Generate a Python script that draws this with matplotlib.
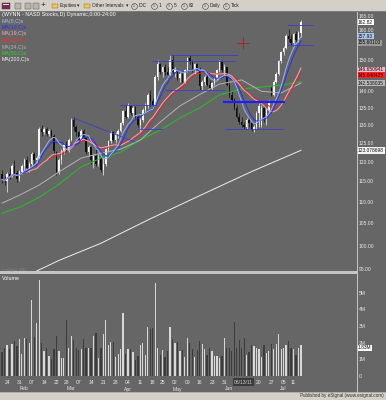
import numpy as np
import pandas as pd
import matplotlib
matplotlib.use("Agg")
import matplotlib.pyplot as plt
from matplotlib.patches import Rectangle
from matplotlib.ticker import FixedLocator, NullLocator
from matplotlib.transforms import blended_transform_factory

plt.rcParams['font.family'] = ['Liberation Sans', 'DejaVu Sans']

# ---- data (WYNN daily) ----
holidays = pd.to_datetime(['2011-02-21', '2011-04-22', '2011-05-30', '2011-07-04'])
dates = pd.bdate_range('2011-01-20', '2011-07-14')
dates = dates[~dates.isin(holidays)]

opens = [117.0, 115.5, 115.0, 117.0, 116.5, 119.0, 117.2, 115.5, 117.5, 119.0,
         120.5, 118.5, 119.5, 122.0, 120.5, 121.0, 129.0, 128.0, 129.0, 127.5,
         128.5, 127.0, 122.5, 117.5, 120.5, 123.0, 124.5, 123.0, 126.0, 131.5,
         129.5, 128.0, 126.0, 128.5, 126.5, 122.5, 124.0, 120.5, 121.5, 119.5,
         121.0, 118.0, 119.5, 123.5, 125.5, 128.0, 126.0, 127.5, 128.5, 130.5,
         134.0, 132.5, 135.5, 133.5, 135.0, 132.5, 130.0, 131.5, 134.5, 136.0,
         139.0, 137.0, 136.0, 144.5, 148.5, 146.0, 147.5, 146.0, 145.0, 150.0,
         146.0, 146.5, 144.0, 145.5, 143.0, 146.5, 150.5, 149.5, 147.0, 148.5,
         147.0, 141.5, 143.0, 144.5, 142.0, 141.0, 142.5, 144.0, 146.5, 149.5,
         146.5, 147.5, 142.0, 139.0, 137.5, 135.0, 132.5, 131.0, 130.0, 129.5,
         131.5, 130.5, 129.0, 129.5, 133.5, 130.0, 135.0, 132.0, 134.5, 141.0,
         139.0, 143.0, 145.5, 149.5, 152.5, 154.0, 158.0, 157.0, 155.5, 158.5,
         156.5, 159.0]
highs = [118.0, 116.5, 117.5, 118.5, 119.5, 120.5, 118.0, 118.0, 119.5, 121.0,
         121.5, 120.0, 122.5, 122.5, 121.5, 129.5, 130.0, 129.5, 129.5, 129.0,
         128.8, 127.5, 123.0, 121.0, 123.5, 125.0, 125.5, 126.5, 132.0, 132.3,
         130.0, 128.5, 129.0, 129.0, 126.8, 124.5, 124.0, 122.0, 123.5, 122.0,
         121.5, 121.0, 124.0, 126.0, 128.5, 128.5, 128.0, 128.8, 131.0, 134.5,
         136.0, 136.5, 136.0, 135.5, 135.5, 133.0, 132.0, 135.0, 136.5, 139.5,
         140.5, 138.0, 145.0, 150.0, 149.0, 148.0, 148.5, 147.5, 151.6, 151.6,
         147.5, 147.0, 146.0, 146.0, 147.0, 151.0, 151.6, 150.0, 149.0, 149.0,
         147.5, 143.5, 145.0, 145.5, 143.5, 143.0, 144.5, 147.0, 150.0, 150.0,
         148.5, 147.5, 143.0, 140.0, 138.0, 136.0, 133.5, 132.5, 131.0, 132.0,
         132.5, 131.0, 130.0, 134.0, 136.5, 136.0, 135.5, 135.0, 137.5, 141.5,
         143.5, 146.0, 150.0, 153.0, 154.5, 158.5, 160.5, 158.5, 159.0, 159.5,
         159.5, 163.5]
lows = [114.5, 114.0, 112.3, 115.5, 116.0, 116.5, 114.8, 115.0, 117.0, 118.0,
        117.5, 117.5, 119.0, 119.5, 119.5, 120.5, 127.0, 127.5, 127.0, 127.0,
        126.5, 122.0, 116.7, 117.0, 119.5, 122.0, 122.5, 122.5, 125.5, 128.5,
        127.0, 125.0, 125.5, 126.0, 122.0, 121.5, 119.5, 118.5, 119.0, 119.0,
        117.5, 116.7, 119.0, 122.5, 125.0, 125.5, 125.0, 126.5, 128.0, 130.0,
        132.0, 132.0, 133.0, 132.5, 132.0, 129.5, 128.5, 131.0, 133.5, 135.0,
        135.5, 134.6, 135.5, 143.6, 145.5, 144.5, 145.0, 144.0, 145.0, 145.5,
        144.5, 143.5, 143.0, 142.5, 142.5, 146.0, 148.5, 146.0, 145.5, 146.5,
        140.5, 140.3, 142.0, 141.5, 140.5, 140.5, 142.0, 143.5, 146.0, 146.0,
        145.0, 141.5, 138.0, 136.8, 134.5, 132.0, 130.3, 129.5, 128.9, 129.0,
        129.5, 128.5, 128.0, 129.0, 129.5, 129.5, 131.0, 130.0, 133.5, 138.5,
        138.5, 142.5, 145.0, 149.0, 151.5, 153.5, 156.0, 155.0, 155.0, 156.0,
        156.0, 157.5]
closes = [115.5, 115.0, 117.0, 116.5, 119.0, 117.2, 115.5, 117.5, 119.0, 120.5,
          118.5, 119.5, 122.0, 120.5, 121.0, 129.0, 128.0, 129.0, 127.5, 128.5,
          127.0, 123.0, 117.5, 120.5, 123.0, 124.5, 123.0, 126.0, 131.5, 129.5,
          128.0, 126.0, 128.5, 126.5, 122.5, 124.0, 120.5, 121.5, 119.5, 121.0,
          118.0, 119.5, 123.5, 125.5, 128.0, 126.0, 127.5, 128.5, 130.5, 134.0,
          132.5, 135.5, 133.5, 135.0, 132.5, 130.0, 131.5, 134.5, 136.0, 139.0,
          137.0, 136.0, 144.5, 148.5, 146.0, 147.5, 146.0, 145.0, 150.0, 146.0,
          146.5, 144.0, 145.5, 143.0, 146.5, 150.5, 149.5, 147.0, 148.5, 147.0,
          141.5, 143.0, 144.5, 142.0, 141.0, 142.5, 144.0, 146.5, 149.5, 146.5,
          147.5, 142.0, 139.0, 137.5, 135.0, 132.5, 131.0, 130.0, 129.5, 131.5,
          130.5, 129.0, 129.5, 133.5, 135.5, 135.0, 132.0, 134.5, 137.0, 139.0,
          143.0, 145.5, 149.5, 152.5, 154.0, 158.0, 157.0, 155.5, 158.5, 156.5,
          159.0, 162.82]
volume_m = [1.45, 1.7, 1.85, 1.6, 1.9, 2.1, 1.8, 2.2, 1.3, 2.3,
            2.2, 2.0, 4.55, 2.35, 3.2, 5.75, 2.0, 1.5, 1.7, 1.2,
            1.0, 1.6, 2.4, 1.5, 1.1, 1.1, 3.35, 1.7, 2.4, 2.15,
            1.65, 1.55, 1.6, 2.2, 1.65, 1.7, 1.7, 2.4, 2.6, 1.1,
            1.7, 2.5, 3.35, 1.85, 2.05, 2.05, 1.15, 1.3, 1.6, 3.8,
            1.3, 1.6, 1.6, 1.45, 0.95, 1.2, 1.85, 1.95, 1.25, 2.95,
            2.8, 2.85, 5.6, 1.7, 1.25, 1.55, 1.15, 1.5, 2.95, 2.2,
            1.95, 2.05, 1.5, 1.55, 1.15, 2.25, 1.95, 1.6, 1.15, 1.55,
            2.1, 1.9, 1.6, 1.25, 1.7, 1.5, 1.2, 1.2, 1.1, 1.2,
            2.3, 1.65, 1.65, 1.5, 3.25, 1.7, 2.15, 1.7, 2.25, 1.25,
            1.45, 1.85, 1.8, 1.65, 1.6, 1.15, 1.85, 1.35, 1.5, 1.9,
            1.6, 1.9, 2.5, 1.6, 1.7, 1.85, 2.1, 1.7, 1.6, 1.25,
            1.7, 1.83]

# slower averages need history before the window
ma34_idx = [0, 7, 15, 23, 32, 40, 48, 56, 64, 72, 80, 88, 97, 105, 113, 121]
ma34_val = [109.7, 111.6, 114.1, 117.4, 121.0, 122.3, 123.4, 125.9, 130.9, 135.6,
            139.0, 142.2, 143.5, 140.0, 139.5, 142.54]
ma50_idx = [0, 7, 15, 23, 32, 40, 48, 56, 64, 72, 80, 88, 97, 105, 113, 121]
ma50_val = [107.3, 108.7, 111.1, 114.3, 118.7, 121.0, 122.6, 125.9, 128.6, 132.1,
            135.0, 138.9, 140.7, 141.3, 141.9, 142.9]
ma200_idx = [14, 23, 40, 60, 80, 101, 121]
ma200_val = [94.6, 96.8, 100.5, 106.0, 111.5, 117.5, 123.08]

# drawn trendlines: (start bar, start price, end bar, end price, thick)
trendlines = [(28.8, 132.1, 53.9, 125.3, False),
              (47.8, 135.9, 62.8, 135.9, False),
              (55.1, 128.9, 65.2, 128.9, False),
              (68.1, 151.6, 95.7, 151.6, False),
              (60.8, 149.6, 94.4, 149.6, False),
              (66.1, 140.5, 90.4, 140.5, False),
              (89.6, 136.8, 114.7, 136.8, True),
              (90.4, 128.9, 113.9, 128.9, False),
              (115.5, 161.8, 125.7, 161.8, False),
              (115.5, 155.0, 125.7, 155.0, False)]

cursor_idx, cursor_price, cursor_date = 97.7, 155.60103, '06/13/11'

price_ticks = [95, 100, 105, 110, 115, 120, 125, 130, 135, 140, 150, 160, 165]
vol_ticks = [0, 1, 2, 3, 4, 5]

# ---- layout in pixels ----
W, H = 386, 400
BG = '#666666'
TXT = '#e8e8e8'


def fx(px):
    return px / W


def fy(py):
    return 1 - py / H


fig = plt.figure(figsize=(W / 100, H / 100), dpi=100, facecolor=BG)
ax = fig.add_axes([0, fy(271), fx(356.5), fy(11.5) - fy(271)])
axv = fig.add_axes([0, fy(376), fx(356.5), fy(274) - fy(376)], sharex=ax)
for a in (ax, axv):
    a.set_facecolor(BG)
    for s in a.spines.values():
        s.set_visible(False)

n = len(closes)
x = np.arange(n)
o = np.array(opens)
c = np.array(closes)
h = np.array(highs)
lo = np.array(lows)
up = c >= o
bar_col = np.where(up, '#f4f4f4', '#101010')

# candles
ax.vlines(x, lo, h, colors=bar_col, lw=0.5, zorder=2)
ax.bar(x, np.maximum(np.abs(c - o), 0.2), bottom=np.minimum(o, c), width=0.6,
       color=bar_col, linewidth=0, zorder=2)

# moving averages
s = pd.Series(closes)
ax.plot(ma200_idx, ma200_val, color='#f0f0f0', lw=0.7, zorder=3)
ax.plot(ma50_idx, ma50_val, color='#22c422', lw=0.7, zorder=3)
ax.plot(ma34_idx, ma34_val, color='#b4b4b4', lw=0.7, zorder=3)
ax.plot(x, s.rolling(21, min_periods=1).mean(), color='#ee2222', lw=0.7, zorder=3)
ax.plot(x, s.rolling(19, min_periods=1).mean(), color='#f0a8b8', lw=0.7, zorder=3)
ax.plot(x, s.rolling(10, min_periods=1).mean(), color='#2a2aff', lw=0.7, zorder=3)
ax.plot(x, s.rolling(8, min_periods=1).mean(), color='#90b8e4', lw=0.7, zorder=3)

for i0, p0, i1, p1, thick in trendlines:
    ax.plot([i0, i1], [p0, p1], color='#1e1eff' if thick else '#3a3ad8',
            lw=1.6 if thick else 0.6, zorder=4, solid_capstyle='butt')

ax.plot(cursor_idx, cursor_price, marker='+', ms=9, mew=0.7, color='#a02828', zorder=5)

ax.set_yscale('log')
ax.set_ylim(94.6, 166.6)
ax.set_xlim(-0.85, 143.5)
ax.yaxis.set_major_locator(FixedLocator(price_ticks))
ax.yaxis.set_minor_locator(NullLocator())
ax.set_yticklabels(['%.2f' % v for v in price_ticks])
ax.yaxis.tick_right()
ax.tick_params(axis='y', length=0, pad=1.8, labelsize=3.6, labelcolor=TXT)
ax.tick_params(axis='x', bottom=False, labelbottom=False)

# volume
vol_col = np.where(up, '#d8d8d8', '#3c3c3c')
axv.bar(x, np.array(volume_m) * 1e6, width=0.5, color=vol_col, linewidth=0)
axv.set_ylim(0, 6.11e6)
axv.set_yticks([v * 1e6 for v in vol_ticks])
axv.set_yticklabels(['0' if v == 0 else '%dM' % v for v in vol_ticks])
axv.yaxis.tick_right()
axv.tick_params(axis='y', length=0, pad=1.8, labelsize=3.6, labelcolor=TXT)

# weekly date ticks (first full week on); the cursor box hides the ones under it
week_first = pd.Series(x, index=dates).groupby(dates.to_period('W')).first().values[1:]
week_first = [i for i in week_first if abs(i - cursor_idx) > 4.5]
axv.set_xticks(week_first)
axv.set_xticklabels([dates[i].strftime('%d') for i in week_first])
axv.tick_params(axis='x', length=0, pad=3.0, labelsize=3.6, labelcolor=TXT)

month_first = pd.Series(x, index=dates).groupby(dates.to_period('M')).first().values[1:]
tr = blended_transform_factory(axv.transData, fig.transFigure)
for i in month_first:
    fig.text(i + 1, fy(389), dates[i].strftime('%b'), transform=tr, ha='center',
             va='center', fontsize=3.6, color=TXT)
fig.text(cursor_idx, fy(382), cursor_date, transform=tr, ha='center', va='center',
         fontsize=3.6, color='#d0d0d0', zorder=6,
         bbox=dict(boxstyle='square,pad=0.25', fc='#3a3a3a', ec='none'))


# right-axis value tags
def tag(a, val, text, fc, tc='#101010', va='center'):
    t = blended_transform_factory(fig.transFigure, a.transData)
    a.text(fx(358), val, text, transform=t, ha='left', va=va, fontsize=3.5,
           color=tc, clip_on=False, zorder=6,
           bbox=dict(boxstyle='square,pad=0.15', fc=fc, ec='none'))


tag(ax, 162.82, '162.82', '#ffffff')
tag(ax, 157.93, '157.93', '#a8c8f0')
tag(ax, cursor_price, '155.60103', '#9a9a9a')
tag(ax, 146.650941, '146.650941', '#f6b8c8')
tag(ax, 145.040425, '145.040425', '#ff2020')
tag(ax, 142.538035, '142.538035', '#b8b8b8')
tag(ax, 123.078698, '123.078698', '#f4f4f4')
tag(axv, 1.83e6, '1.83M', '#ffffff', va='top')

# ---- window chrome (pixel coordinates) ----
deco = fig.add_axes([0, 0, 1, 1], zorder=5)
deco.set_xlim(0, W)
deco.set_ylim(H, 0)
deco.axis('off')

deco.add_patch(Rectangle((0, 0), W, 11, fc='#d4d0c8', ec='none'))
deco.plot([0, W], [11, 11], color='#808080', lw=0.6)
deco.add_patch(Rectangle((0, 392), W, 8, fc='#d4d0c8', ec='none'))
deco.plot([0, W], [392, 392], color='#a0a0a0', lw=0.5)
deco.add_patch(Rectangle((0, 271), 356.5, 3, fc='#c4c4c4', ec='none'))
deco.plot([356.8, 356.8], [11.5, 392], color='#c8c8c8', lw=0.7)

# toolbar
deco.add_patch(Rectangle((2, 2.5), 8, 6, fc='#7a2a5a', ec='#303030', lw=0.3))
deco.add_patch(Rectangle((3, 4), 6, 1.2, fc='#e0e0e0', ec='none'))
for px in (15, 25, 33):
    deco.add_patch(Rectangle((px, 2.5), 6, 6, fc='#b8b4ac', ec='#505050', lw=0.3))
deco.text(43, 5.5, '+', fontsize=6, color='#202020', ha='center', va='center')
for px in (52, 84):
    deco.add_patch(Rectangle((px, 3.5), 6, 4.5, fc='#e8c860', ec='#806020', lw=0.3))
tb = dict(fontsize=3.4, color='#202020', va='center')
deco.text(60, 5.5, 'Equities', **tb)
deco.text(77, 5.5, '\u25be', **tb)
deco.text(92, 5.5, 'Other Intervals', **tb)
deco.text(126, 5.5, '\u25be', **tb)
for cx, label in [(134, 'IDC'), (154, '1'), (169, '5'), (184, '60'),
                  (205, 'Daily'), (226, 'Tick')]:
    deco.plot(cx, 5.5, marker='o', ms=4.2, mfc='none', mec='#404040', mew=0.4)
    deco.text(cx, 5.6, '1', fontsize=2.6, color='#303030', ha='center', va='center')
    deco.text(cx + 4.5, 5.5, label, **tb)

deco.text(384, 396, 'Published by eSignal (www.esignal.com)', fontsize=3.3,
          color='#303030', ha='right', va='center')

# title and legend
deco.text(2, 14.8, '(WYNN - NASD Stocks,D) Dynamic,0:00-24:00', fontsize=3.9,
          color='white', va='center')
legend = [('MA(8,C)s', '#9cc0ea'), ('MA(10,C)s', '#2a2aff'), ('MA(19,C)s', '#f2a8b8'),
          ('MA(21,C)s', '#ff2a2a'), ('MA(34,C)s', '#b0b0b0'), ('MA(50,C)s', '#22e022'),
          ('MA(200,C)s', '#f4f4f4')]
for k, (label, col) in enumerate(legend):
    deco.text(2, 21 + k * 6.5, label, fontsize=3.8, color=col, va='center')

deco.text(2, 269.5, '\u00a9 eSignal, 2011', fontsize=2.4, color='#8a8a8a', va='center')
deco.text(2, 279, 'Volume', fontsize=3.8, color='white', va='center')

fig.savefig('out.png', dpi=100, facecolor=BG)
